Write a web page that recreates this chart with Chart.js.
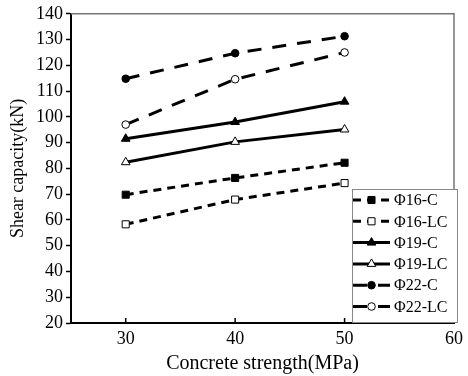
<!DOCTYPE html>
<html>
<head>
<meta charset="utf-8">
<script src="https://cdn.jsdelivr.net/npm/chart.js@4.4.1/dist/chart.umd.min.js"></script>
<style>
  html, body { margin: 0; padding: 0; background: #fff; }
  #wrap { width: 468px; height: 376px; }
</style>
</head>
<body>
<div id="wrap"><canvas id="chart" width="468" height="376"></canvas></div>
<script>
// data
const strengths = [30, 40, 50];
const phi16C  = [69.8, 76.3, 82.2];
const phi16LC = [58.3, 67.9, 74.3];
const phi19C  = [91.5, 98.0, 105.9];
const phi19LC = [82.4, 90.3, 95.1];
const phi22C  = [114.8, 124.7, 131.3];
const phi22LC = [97.0, 114.6, 125.0];
const seriesNames = ['\u03A616-C', '\u03A616-LC', '\u03A619-C', '\u03A619-LC', '\u03A622-C', '\u03A622-LC'];
const xTicks = [30, 40, 50, 60];

const FONT = "'Liberation Serif', 'Times New Roman', serif";

function pts(vals) {
    return vals.map((v, i) => ({ x: strengths[i], y: v }));
}

function makeSet(label, vals, dash, shape, filled, radius) {
    return {
        label: label,
        data: pts(vals),
        borderColor: '#000',
        borderWidth: 3,
        borderDash: dash,
        pointStyle: shape,
        pointRadius: radius,
        pointBackgroundColor: filled ? '#000' : '#fff',
        pointBorderColor: '#000',
        pointBorderWidth: 1,
        tension: 0
    };
}

const shortDash = [8, 6];
const longDash = [14, 11];

const datasets = [
    makeSet(seriesNames[0], phi16C, shortDash, 'rect', true, 5),
    makeSet(seriesNames[1], phi16LC, shortDash, 'rect', false, 5),
    makeSet(seriesNames[2], phi19C, [], 'triangle', true, 5),
    makeSet(seriesNames[3], phi19LC, [], 'triangle', false, 5),
    makeSet(seriesNames[4], phi22C, longDash, 'circle', true, 3.8),
    makeSet(seriesNames[5], phi22LC, longDash, 'circle', false, 3.8)
];

// frame, inward x ticks and the boxed legend
const framePlugin = {
    id: 'frame',
    afterDraw(chart) {
        const ctx = chart.ctx;
        const a = chart.chartArea;
        const xs = chart.scales.x;
        ctx.save();
        ctx.strokeStyle = '#777';
        ctx.lineWidth = 1.5;
        ctx.beginPath();
        ctx.moveTo(a.left, a.top);
        ctx.lineTo(a.right, a.top);
        ctx.lineTo(a.right, a.bottom);
        ctx.stroke();

        ctx.strokeStyle = '#000';
        ctx.lineWidth = 1.5;
        xTicks.forEach(v => {
            const px = xs.getPixelForValue(v);
            ctx.beginPath();
            ctx.moveTo(px, a.bottom);
            ctx.lineTo(px, a.bottom - 5);
            ctx.stroke();
        });

        // legend box
        const bx = 352, by = 189, bw = 105, bh = 133;
        ctx.fillStyle = '#fff';
        ctx.fillRect(bx, by, bw, bh);
        ctx.strokeStyle = '#888';
        ctx.lineWidth = 1;
        ctx.strokeRect(bx + 0.5, by + 0.5, bw, bh);

        chart.data.datasets.forEach((ds, i) => {
            const cy = 200 + i * 21.3;
            ctx.save();
            ctx.strokeStyle = '#000';
            ctx.lineWidth = 3;
            ctx.setLineDash(ds.borderDash);
            ctx.beginPath();
            ctx.moveTo(353, cy);
            ctx.lineTo(390, cy);
            ctx.stroke();
            ctx.restore();
            ctx.fillStyle = ds.pointBackgroundColor;
            ctx.strokeStyle = '#000';
            ctx.lineWidth = 1;
            Chart.helpers.drawPoint(ctx, { pointStyle: ds.pointStyle, radius: ds.pointRadius, borderWidth: 1 }, 371.5, cy);
            ctx.fillStyle = '#000';
            ctx.font = '16px ' + FONT;
            ctx.textBaseline = 'middle';
            ctx.textAlign = 'left';
            ctx.fillText(ds.label, 394, cy + 1);
        });
        ctx.restore();
    }
};

new Chart(document.getElementById('chart'), {
    type: 'line',
    data: { datasets: datasets },
    options: {
        responsive: false,
        animation: false,
        layout: { padding: { top: 12, right: 10, left: 0, bottom: 0 } },
        plugins: {
            legend: { display: false },
            tooltip: { enabled: false }
        },
        scales: {
            x: {
                type: 'linear',
                min: 25,
                max: 60,
                afterBuildTicks: scale => { scale.ticks = xTicks.map(v => ({ value: v })); },
                afterFit: scale => { scale.height = 53; },
                grid: { drawOnChartArea: false, drawTicks: false },
                border: { color: '#000', width: 2 },
                ticks: { color: '#000', font: { family: FONT, size: 18 }, padding: 5, maxRotation: 0 },
                title: {
                    display: true,
                    text: 'Concrete strength(MPa)',
                    color: '#000',
                    font: { family: FONT, size: 20 },
                    padding: { top: 0, bottom: 0 }
                }
            },
            y: {
                min: 20,
                max: 140,
                afterFit: scale => { scale.width = 71; },
                grid: { drawOnChartArea: false, drawTicks: true, tickLength: 5, tickColor: '#000', tickWidth: 1.5 },
                border: { color: '#000', width: 2 },
                ticks: { stepSize: 10, color: '#000', font: { family: FONT, size: 18 }, padding: 3 },
                title: {
                    display: true,
                    text: 'Shear capacity(kN)',
                    color: '#000',
                    font: { family: FONT, size: 18 },
                    padding: { top: 7, bottom: 0 }
                }
            }
        }
    },
    plugins: [framePlugin]
});
</script>
</body>
</html>
